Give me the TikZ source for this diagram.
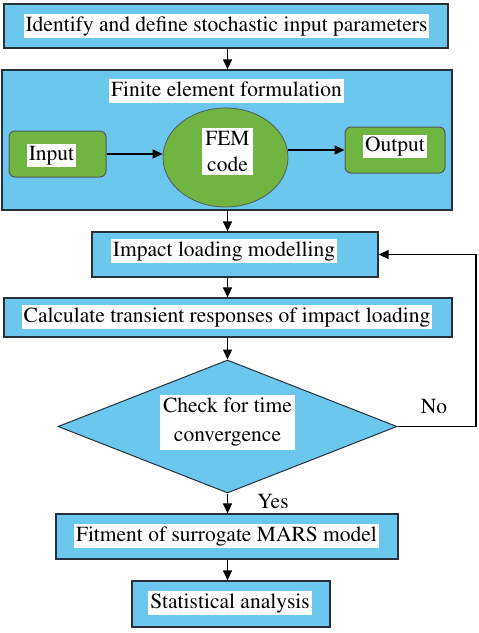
\documentclass[tikz,border=0pt]{standalone}
\usepackage[T1]{fontenc}
\usepackage{mathptmx}
\usetikzlibrary{shapes.geometric,arrows.meta}
\definecolor{skyfill}{RGB}{108,199,238}
\definecolor{leaf}{RGB}{112,180,66}
\definecolor{edge}{RGB}{40,48,56}
\begin{document}
\begin{tikzpicture}[x=1pt, y=-1pt,
    >={Triangle[length=10pt,width=9pt]},
    box/.style={rectangle, draw=edge, line width=1.3pt, fill=skyfill, inner sep=0pt},
    gbox/.style={rectangle, rounded corners=6pt, draw=edge!80, line width=1pt, fill=leaf, inner sep=0pt},
    txt/.style={fill=white, inner sep=2pt, text height=15pt, text depth=4.5pt},
    txtml/.style={fill=white, inner sep=3pt, align=center},
    flow/.style={->, line width=1.3pt, draw=black},
    every node/.style={font=\fontsize{21.5}{26}\selectfont}]
    \useasboundingbox (0,0) rectangle (479,633);

    % Nodes
    \node[box, minimum width=444, minimum height=44] (box1) at (226, 26) {};
    \node[txt] (t1) at (226.5, 26) {Identify and define stochastic input parameters};

    \node[box, minimum width=450, minimum height=140] (fe) at (227, 140) {};
    \node[txt] (tfe) at (226.5, 91) {Finite element formulation};
    \node[gbox, minimum width=97, minimum height=46] (in) at (57.5, 154) {};
    \node[txt] (tin) at (51.5, 155.5) {Input};
    \node[ellipse, draw=edge!80, line width=0.8pt, fill=leaf, minimum width=125, minimum height=99, inner sep=0pt] (fem) at (225.5, 157.5) {};
    \node[txtml] (tfem) at (227.5, 151.5) {FEM\\code};
    \node[gbox, minimum width=100, minimum height=46] (out) at (395, 150) {};
    \node[txt] (tout) at (395, 146.5) {Output};

    \node[box, minimum width=286, minimum height=45] (box3) at (235, 254.5) {};
    \node[txt] (t3) at (224, 251) {Impact loading modelling};

    \node[box, minimum width=448, minimum height=39] (box4) at (228, 317.5) {};
    \node[txt] (t4) at (227, 317) {Calculate transient responses of impact loading};

    \node[diamond, draw=edge, line width=1pt, fill=skyfill, minimum width=339, minimum height=133, inner sep=0pt] (dia) at (227.5, 426.5) {};
    \node[txtml] (tdia) at (227.5, 422.5) {Check for time\\[3pt]convergence};
    \coordinate (loop) at (476, 426.5);
    \node (no) at (434, 407) {No};
    \node (yes) at (273, 502) {Yes};

    \node[box, minimum width=342, minimum height=45] (box5) at (227, 536.5) {};
    \node[txt] (t5) at (226.5, 536) {Fitment of surrogate MARS model};

    \node[box, minimum width=198, minimum height=46] (box6) at (231, 604) {};
    \node[txt] (t6) at (230, 603) {Statistical analysis};

    % Edges
    \draw[flow] (box1.south -| dia) -- (fe.north -| dia);
    \draw[flow] (in.east) -- (in.east -| fem.west);
    \draw[flow] (out.west -| fem.east) -- (out.west);
    \draw[flow] (fe.south -| dia) -- (box3.north -| dia);
    \draw[flow] (box3.south -| dia) -- (box4.north -| dia);
    \draw[flow] (box4.south -| dia) -- (dia.north);
    \draw[flow] (dia.south) -- (box5.north -| dia);
    \draw[flow] (box5.south -| dia) -- (box6.north -| dia);
    \draw[flow] (dia.east) -- (loop) |- (box3.east);
\end{tikzpicture}
\end{document}
